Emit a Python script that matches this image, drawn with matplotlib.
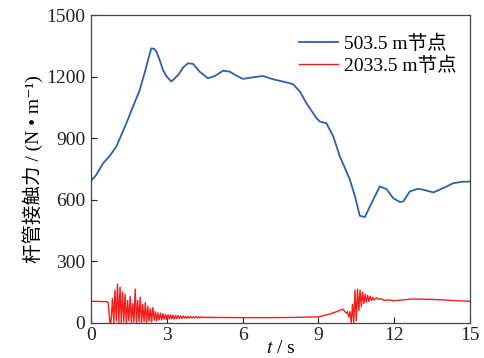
import matplotlib
matplotlib.use("Agg")
import matplotlib.pyplot as plt

plt.rcParams['font.family'] = ['Liberation Serif', 'Noto Sans CJK SC', 'DejaVu Serif']
plt.rcParams['mathtext.fontset'] = 'stix'

# Blue series: 503.5 m node
t_blue = [0.0, 0.2, 0.48, 0.75, 1.0, 1.2, 1.4, 1.65, 1.93, 2.15, 2.3, 2.39, 2.5, 2.59, 2.72, 2.85, 3.0,
          3.18, 3.3, 3.45, 3.65, 3.84, 4.04, 4.3, 4.63, 4.9, 5.23, 5.49, 5.75, 6.02, 6.42,
          6.81, 7.21, 7.6, 8.0, 8.27, 8.53, 8.75, 8.93, 9.06, 9.32, 9.59, 9.85, 10.05, 10.25,
          10.45, 10.64, 10.84, 11.04, 11.25, 11.43, 11.7, 11.96, 12.23, 12.36, 12.62, 12.95,
          13.15, 13.55, 13.94, 14.34, 14.7, 15.0]
v_blue = [692, 720, 778, 815, 859, 915, 973, 1050, 1135, 1230, 1300, 1338, 1335, 1322, 1280, 1232, 1200,
          1176, 1190, 1208, 1245, 1265, 1262, 1224, 1192, 1203, 1229, 1224, 1205, 1189, 1197,
          1203, 1187, 1176, 1163, 1127, 1070, 1030, 997, 981, 973, 908, 811, 755, 697,
          616, 522, 516, 568, 620, 665, 652, 608, 589, 592, 641, 654,
          649, 636, 657, 681, 688, 689]

# Red series: 2033.5 m node
t_red = [0.0, 0.3, 0.6, 0.68, 0.75, 0.78,
         0.80, 0.85, 0.90, 0.95, 1.00, 1.05, 1.10, 1.15, 1.20, 1.25, 1.30, 1.35, 1.40, 1.45,
         1.50, 1.55, 1.60, 1.65, 1.70, 1.75, 1.80, 1.85, 1.90, 1.95, 2.00, 2.05, 2.10, 2.15,
         2.20, 2.25, 2.30, 2.35, 2.40, 2.45, 2.50, 2.55, 2.60, 2.65, 2.70, 2.75, 2.80, 2.85,
         2.90, 2.95, 3.00, 3.05, 3.10, 3.15, 3.20, 3.25, 3.30, 3.35, 3.40, 3.45, 3.50, 3.55,
         3.60, 3.65, 3.70, 3.75, 3.80, 3.85, 3.90, 3.95, 4.00, 4.05, 4.10, 4.15, 4.20, 4.25,
         4.30, 4.35, 4.40, 4.45, 4.50, 4.55, 4.60, 4.65, 4.70, 4.75, 4.80, 4.85, 4.90, 4.95,
         5.00, 5.05, 5.10, 5.20,
         6.0, 7.0, 8.0, 9.0, 9.5, 9.97, 10.1, 10.15, 10.2, 10.25, 10.3, 10.35, 10.4, 10.45,
         10.5, 10.55, 10.6, 10.65, 10.7, 10.75, 10.8, 10.85, 10.9, 10.95, 11.0, 11.05, 11.1,
         11.15, 11.2, 11.3, 11.4, 11.5, 11.6, 11.8, 12.0, 12.3, 12.7, 13.0, 13.5, 14.0, 14.5, 15.0]
v_red = [106, 105, 104, 100, 0, 0,
         20, 120, 0, 160, 10, 190, 0, 175, 0, 150, 5, 140, 0, 110,
         10, 130, 0, 95, 5, 165, 0, 110, 5, 125, 0, 90, 5, 100,
         2, 80, 8, 70, 5, 75, 12, 55, 10, 50, 15, 48, 14, 45,
         18, 42, 17, 40, 19, 39, 20, 38, 20, 37, 21, 36, 22, 35,
         22, 34, 23, 33, 23, 32, 24, 32, 24, 31, 25, 31, 25, 30,
         25, 30, 26, 29, 26, 29, 26, 29, 26, 28, 26, 28, 26, 28,
         26, 27.5, 26, 27,
         26, 26, 27, 30, 45, 67, 48, 55, 30, 55, 0, 90, 0, 160,
         10, 165, 60, 160, 80, 150, 95, 140, 100, 135, 105, 130, 110,
         125, 112, 122, 115, 118, 110, 112, 108, 112, 117, 116, 115, 112, 108, 106]

x_ticks = [0, 3, 6, 9, 12, 15]
y_ticks = [0, 300, 600, 900, 1200, 1500]
labels = ['503.5 m节点', '2033.5 m节点']

fig = plt.figure(figsize=(4.85, 3.58), dpi=100)
ax = fig.add_axes([0.1876, 0.0978, 0.969 - 0.1876, 0.958 - 0.0978])

ax.plot(t_blue, v_blue, color='#2f5cb8', lw=1.3, label=labels[0])
ax.plot(t_red, v_red, color='#f21d1d', lw=1.0, label=labels[1])

ax.set_xlim(0, 15)
ax.set_ylim(0, 1500)
ax.set_xticks(x_ticks)
ax.set_yticks(y_ticks)
ax.tick_params(direction='in', length=4, width=0.8, labelsize=14, colors='#222222', pad=4)
ax.tick_params(axis='x', pad=3)
for s in ax.spines.values():
    s.set_color('#444444')
    s.set_linewidth(0.9)

ax.set_xlabel('$t$ / s', fontsize=14, labelpad=-3)
ax.set_ylabel('杆管接触力 / (N • m⁻¹)', fontsize=14, labelpad=2)

leg = ax.legend(loc='upper right', bbox_to_anchor=(1.0, 0.98), frameon=False, fontsize=14,
                handlelength=2.0, handletextpad=0.3, labelspacing=0.2, borderaxespad=0.3)

fig.savefig('out.png', dpi=100)
